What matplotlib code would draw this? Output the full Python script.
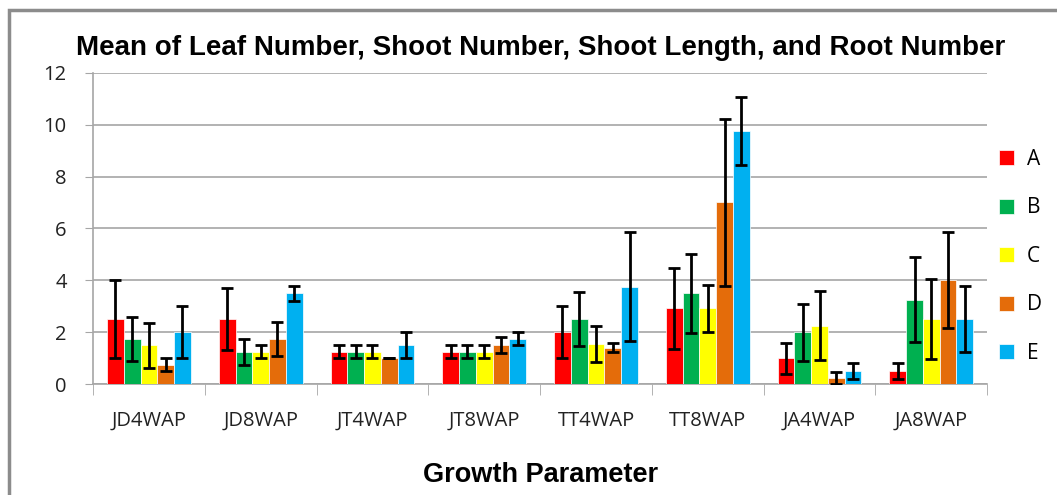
import numpy as np
import matplotlib.pyplot as plt
from matplotlib.patches import Rectangle

groups = ['JD4WAP', 'JD8WAP', 'JT4WAP', 'JT8WAP', 'TT4WAP', 'TT8WAP', 'JA4WAP', 'JA8WAP']
series = ['A', 'B', 'C', 'D', 'E']

a_mean = [2.5, 2.5, 1.25, 1.25, 2.0, 2.92, 1.0, 0.5]
b_mean = [1.75, 1.25, 1.25, 1.25, 2.5, 3.5, 2.0, 3.25]
c_mean = [1.5, 1.25, 1.25, 1.25, 1.55, 2.92, 2.25, 2.5]
d_mean = [0.75, 1.75, 1.0, 1.5, 1.4, 7.0, 0.25, 4.0]
e_mean = [2.0, 3.5, 1.5, 1.75, 3.75, 9.75, 0.5, 2.5]

a_err = [1.5, 1.2, 0.25, 0.25, 1.0, 1.55, 0.6, 0.3]
b_err = [0.85, 0.5, 0.25, 0.25, 1.05, 1.53, 1.1, 1.64]
c_err = [0.87, 0.25, 0.25, 0.25, 0.68, 0.9, 1.32, 1.54]
d_err = [0.25, 0.65, 0.0, 0.3, 0.18, 3.2, 0.23, 1.85]
e_err = [1.0, 0.3, 0.5, 0.25, 2.1, 1.3, 0.3, 1.27]

means = [a_mean, b_mean, c_mean, d_mean, e_mean]
errs = [a_err, b_err, c_err, d_err, e_err]
colors = ['#FF0000', '#00B050', '#FFFF00', '#E46C0A', '#00B0F0']

fig = plt.figure(figsize=(10.57, 4.95), dpi=100)
ax = fig.add_axes([0.088, 0.224, 0.846, 0.629])

x = np.arange(len(groups))
w = 0.15
for i in range(5):
    pos = x + (i - 2) * w
    ax.bar(pos, means[i], w, color=colors[i], edgecolor='white', linewidth=0.5,
           label=series[i], zorder=3)
    ax.errorbar(pos, means[i], yerr=errs[i], fmt='none', ecolor='black',
                elinewidth=2, capsize=4.5, capthick=2, zorder=4)

ax.set_xlim(-0.5, len(groups) - 0.5)
ax.set_ylim(0, 12)
ax.set_yticks(range(0, 13, 2))
ax.grid(axis='y', color='#a6a6a6', linewidth=1.2, zorder=0)
ax.set_axisbelow(True)

ax.set_xticks(x)
ax.set_xticklabels(groups, fontsize=14.5, family='Open Sans', color='#222222')
ax.set_xticks(np.arange(-0.5, len(groups)), minor=True)
ax.tick_params(axis='x', which='major', length=0, pad=19)
ax.tick_params(axis='x', which='minor', length=8, color='#a6a6a6', direction='out')
ax.tick_params(axis='y', length=6, color='#a6a6a6', labelsize=14.5, pad=13)
for lbl in ax.get_yticklabels():
    lbl.set_family('Open Sans')
    lbl.set_color('#222222')

for s in ['top', 'right']:
    ax.spines[s].set_visible(False)
for s in ['left', 'bottom']:
    ax.spines[s].set_color('#a6a6a6')
    ax.spines[s].set_linewidth(1.2)

ax.set_title('Mean of Leaf Number, Shoot Number, Shoot Length, and Root Number',
             fontsize=20, fontweight='bold', family='Liberation Sans', pad=13)
ax.set_xlabel('Growth Parameter', fontsize=19.5, fontweight='bold',
              family='Liberation Sans', labelpad=23)

leg = ax.legend(loc='center left', bbox_to_anchor=(0.992, 0.41), frameon=False,
                prop={'family': 'Open Sans', 'size': 15}, handlelength=0.75,
                handleheight=0.75, labelspacing=1.32, handletextpad=0.6)

fig.add_artist(Rectangle((9 / 1057, -0.1), 1.2, 1 - 10 / 495 + 0.1,
                         transform=fig.transFigure, fill=False,
                         edgecolor='#8c8c8c', linewidth=2.5))

fig.savefig('out.png', dpi=100)
